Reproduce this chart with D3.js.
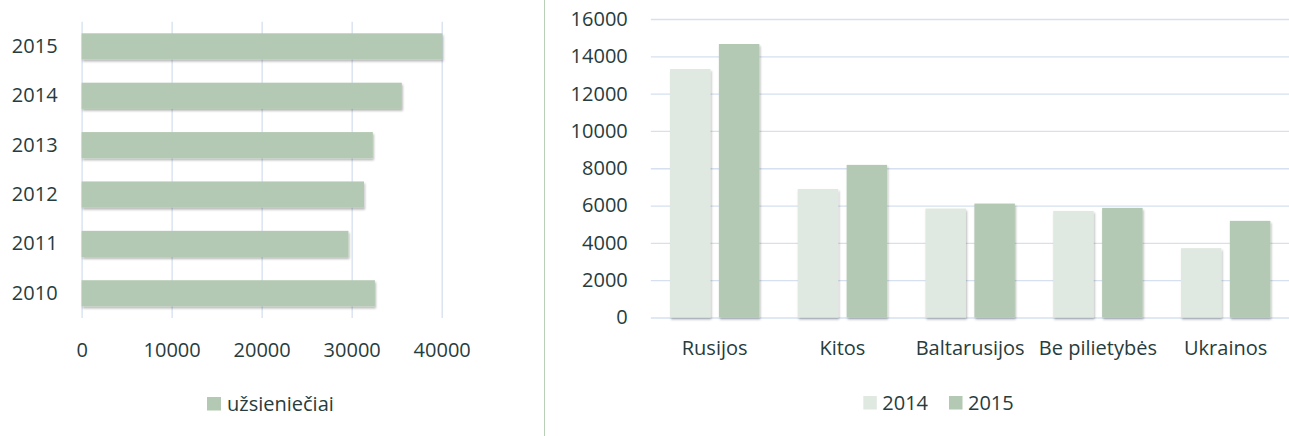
<!DOCTYPE html>
<meta charset="utf-8">
<head>
    <meta charset="utf-8">
    <script src="https://d3js.org/d3.v7.min.js"></script>
    <style>
        body { margin: 0; background: #fff; }
        text { font-family: "Open Sans", Lato, sans-serif; font-size: 20px; fill: #273c3d; }
    </style>
</head>
<body>
    <svg width="1289" height="436"></svg>

    <script>
        // left chart: foreigners per year
        var years = ["2010", "2011", "2012", "2013", "2014", "2015"];
        var foreigners = [32580, 29640, 31370, 32350, 35570, 40080];
        var xTicksLeft = [0, 10000, 20000, 30000, 40000];
        var leftLegend = "užsieniečiai";

        // right chart: by citizenship
        var countries = ["Rusijos", "Kitos", "Baltarusijos", "Be pilietybės", "Ukrainos"];
        var seriesNames = ["2014", "2015"];
        var values2014 = [13320, 6890, 5840, 5715, 3717];
        var values2015 = [14660, 8180, 6107, 5876, 5180];
        var yTicksRight = [0, 2000, 4000, 6000, 8000, 10000, 12000, 14000, 16000];

        var colors = { "2014": "#e0e9e1", "2015": "#b3c9b3" };
        var gridColor = "#d6e0f0";

        var svg = d3.select("svg");

        // soft shadow like the office chart
        var defs = svg.append("defs");
        var f = defs.append("filter").attr("id", "shadow")
            .attr("x", "-10%").attr("y", "-10%").attr("width", "130%").attr("height", "130%");
        f.append("feDropShadow")
            .attr("dx", 1).attr("dy", 2).attr("stdDeviation", 1.2)
            .attr("flood-color", "#000").attr("flood-opacity", 0.28);

        // divider between the two charts
        svg.append("line")
            .attr("x1", 544.5).attr("x2", 544.5).attr("y1", 0).attr("y2", 436)
            .attr("stroke", "#b8cfb8").attr("stroke-width", 1);

        //---------- LEFT chart ----------
        var lTop = 21.7, lBottom = 318, lLeft = 81.6, lRight = 441.7;

        var x1 = d3.scaleLinear().domain([0, 40000]).range([lLeft, lRight]);
        var y1 = d3.scaleBand().domain(years.slice().reverse()).range([lTop, lBottom])
            .paddingInner(0.47).paddingOuter(0.235);

        // X axis + vertical grid
        var gx1 = svg.append("g")
            .attr("transform", "translate(0," + lBottom + ")")
            .call(d3.axisBottom(x1).tickValues(xTicksLeft).tickSize(-(lBottom - lTop)).tickFormat(d3.format("d")));
        gx1.select(".domain").remove();
        gx1.selectAll("line").attr("stroke", gridColor).attr("stroke-width", 1.3);
        gx1.selectAll("text").attr("y", 32).attr("dy", "0.35em")
            .attr("fill", null).style("font-size", "20px").style("font-family", null);

        // bars
        svg.append("g").selectAll("rect")
            .data(years)
            .enter().append("rect")
            .attr("x", x1(0))
            .attr("y", function (d) { return y1(d); })
            .attr("width", function (d, i) { return x1(foreigners[i]) - x1(0); })
            .attr("height", y1.bandwidth())
            .attr("fill", colors["2015"])
            .attr("filter", "url(#shadow)");

        // Y axis labels
        var gy1 = svg.append("g")
            .attr("transform", "translate(" + lLeft + ",0)")
            .call(d3.axisLeft(y1).tickSize(0).tickPadding(24));
        gy1.select(".domain").remove();
        gy1.selectAll("text").attr("fill", null).style("font-size", "20px").style("font-family", null);

        // legend
        var lg1 = svg.append("g").attr("transform", "translate(207,397)");
        lg1.append("rect").attr("width", 14).attr("height", 13.5).attr("fill", colors["2015"]);
        lg1.append("text").attr("x", 20).attr("y", 7).attr("dy", "0.35em").text(leftLegend);

        //---------- RIGHT chart ----------
        var rTop = 19, rBottom = 317.5, rLeft = 650.8, rRight = 1289.5;

        var x0 = d3.scaleBand().domain(countries).range([rLeft, rRight]).padding(0);
        var xs = d3.scaleBand().domain(seriesNames)
            .range([x0.bandwidth() * 0.15, x0.bandwidth() * 0.85]).paddingInner(0.173);
        var y2 = d3.scaleLinear().domain([0, 16000]).range([rBottom, rTop]);

        // Y axis + horizontal grid
        var gy2 = svg.append("g")
            .attr("transform", "translate(" + rLeft + ",0)")
            .call(d3.axisLeft(y2).tickValues(yTicksRight).tickSize(-(rRight - rLeft)).tickPadding(23).tickFormat(d3.format("d")));
        gy2.select(".domain").remove();
        gy2.selectAll("line").attr("stroke", gridColor).attr("stroke-width", 1.3);
        gy2.selectAll("text").attr("fill", null).style("font-size", "20px").style("font-family", null);

        // grouped bars
        var rows = countries.map(function (c, i) {
            return { country: c, vals: [ { s: "2014", v: values2014[i] }, { s: "2015", v: values2015[i] } ] };
        });

        svg.append("g").selectAll("g")
            .data(rows)
            .enter().append("g")
            .attr("transform", function (d) { return "translate(" + x0(d.country) + ",0)"; })
            .selectAll("rect")
            .data(function (d) { return d.vals; })
            .enter().append("rect")
            .attr("x", function (d) { return xs(d.s); })
            .attr("y", function (d) { return y2(d.v); })
            .attr("width", xs.bandwidth())
            .attr("height", function (d) { return y2(0) - y2(d.v); })
            .attr("fill", function (d) { return colors[d.s]; })
            .attr("filter", "url(#shadow)");

        // X axis labels
        var gx2 = svg.append("g")
            .attr("transform", "translate(0," + rBottom + ")")
            .call(d3.axisBottom(x0).tickSize(0));
        gx2.select(".domain").remove();
        gx2.selectAll("text").attr("y", 30.5).attr("dy", "0.35em")
            .attr("fill", null).style("font-size", "20px").style("font-family", null);

        // legend
        var legX = [863.3, 949];
        var lg2 = svg.append("g").selectAll("g")
            .data(seriesNames)
            .enter().append("g")
            .attr("transform", function (d, i) { return "translate(" + legX[i] + ",396)"; });
        lg2.append("rect").attr("width", 13.5).attr("height", 13.5).attr("fill", function (d) { return colors[d]; });
        lg2.append("text").attr("x", 19).attr("y", 7).attr("dy", "0.35em").text(function (d) { return d; });
    </script>
</body>
</html>
